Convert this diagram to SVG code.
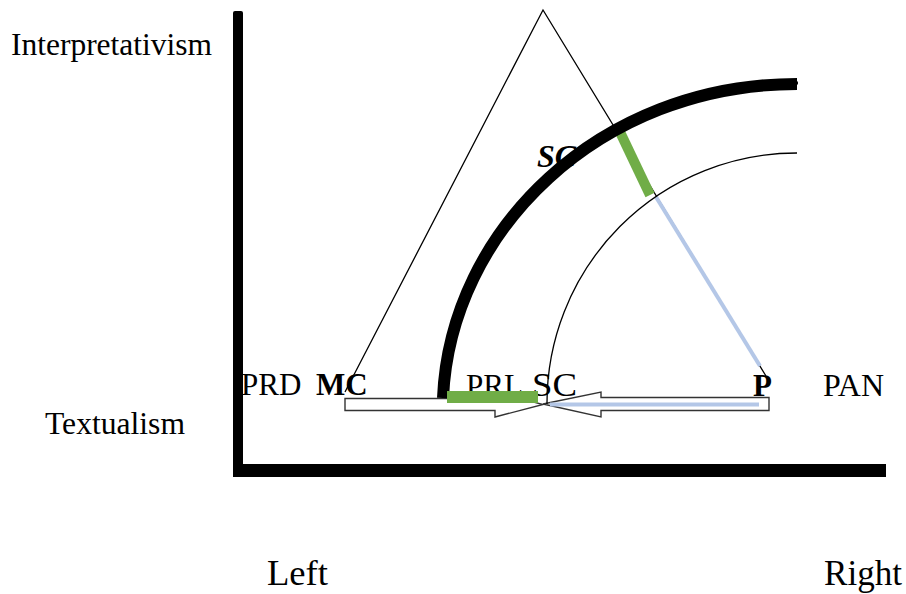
<svg xmlns="http://www.w3.org/2000/svg" width="906" height="594" viewBox="0 0 906 594">
<style>
text{font-family:"Liberation Serif","Times New Roman",serif;fill:#000}
.lbl{font-size:31px}
.axis{font-size:31px}
.dir{font-size:36px}
.thin{fill:none;stroke:#000;stroke-width:1.3}
.arrow{fill:#fff;stroke:#333;stroke-width:1.4;stroke-linejoin:miter}
.green{stroke:#70ad47;fill:none}
.blue{stroke:#b4c7e7;fill:none}
</style>
<rect width="906" height="594" fill="#fff"/>
<g id="axes">
<rect x="233" y="11" width="10" height="466" rx="2" fill="#000"/>
<rect x="233" y="464" width="653" height="13" fill="#000"/>
</g>
<g id="arrows">
<path class="arrow" d="M345,398.5 H495 V392 L543,404.5 L495,417 V410.5 H345 Z"/>
<path class="arrow" d="M769,397.5 H601 V392 L543,404 L601,417 V410.5 H769 Z"/>
<line class="blue" x1="550" y1="404.5" x2="759" y2="404.5" stroke-width="4"/>
</g>
<g id="triangle">
<polyline class="thin" points="345,392 543,10 766,376"/>
<line class="blue" x1="656" y1="197" x2="760" y2="366" stroke-width="4"/>
<line class="green" x1="620" y1="132" x2="650" y2="195" stroke-width="10"/>
</g>
<g id="labels">
<text class="axis" x="11" y="55" textLength="201" lengthAdjust="spacingAndGlyphs">Interpretativism</text>
<text class="axis" x="45" y="434" textLength="140" lengthAdjust="spacingAndGlyphs">Textualism</text>
<text class="dir" x="267" y="585" textLength="61" lengthAdjust="spacingAndGlyphs">Left</text>
<text class="dir" x="824" y="585" textLength="78" lengthAdjust="spacingAndGlyphs">Right</text>
<text class="lbl" x="241" y="395">PRD</text>
<text class="lbl" x="316" y="395" font-weight="bold">MC</text>
<text class="lbl" x="466" y="396" textLength="57" lengthAdjust="spacingAndGlyphs">PRL</text>
<text x="532" y="396" font-size="34" textLength="45" lengthAdjust="spacingAndGlyphs">SC</text>
<text class="lbl" x="753" y="396" font-weight="bold">P</text>
<text class="lbl" x="823" y="396" textLength="61" lengthAdjust="spacingAndGlyphs">PAN</text>
<text x="537" y="167" font-size="32" font-weight="bold" font-style="italic">SC</text>
</g>
<g id="arcs">
<path class="thin" d="M547,404 A250,250 0 0 1 797,153"/>
<path d="M443,398 C450,230 600,84 797,84" fill="none" stroke="#000" stroke-width="12"/>
<path d="M443,398 C450,230 600,84 797,84" fill="none" stroke="#000" stroke-width="3" stroke-dasharray="2 3" transform="translate(1,-1)"/>
</g>
<g id="bars">
<rect x="447" y="391" width="91" height="12" fill="#70ad47"/>
</g>
</svg>
